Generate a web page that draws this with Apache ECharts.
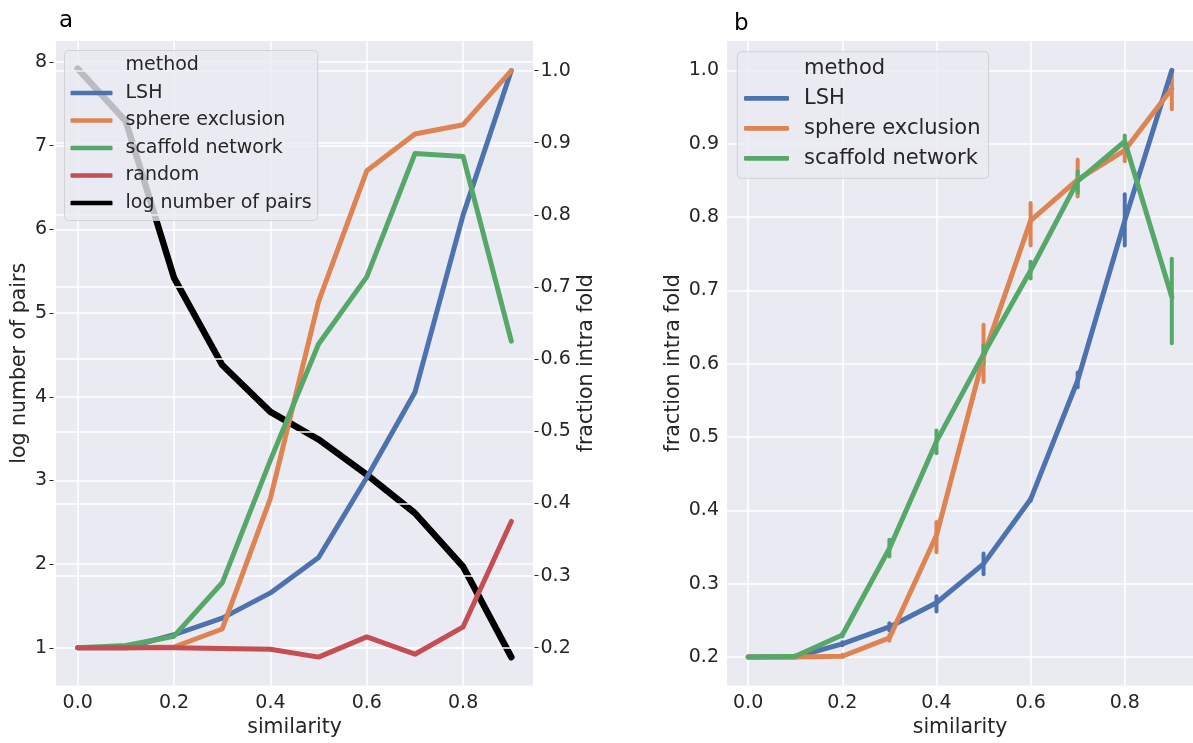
<!DOCTYPE html>
<html><head><meta charset="utf-8">
<script src="https://cdn.jsdelivr.net/npm/echarts@6/dist/echarts.min.js"></script>
<style>html,body{margin:0;padding:0;background:#fff}#c{width:1193px;height:743px}</style>
</head><body><div id="c"></div>
<script>
// ---------- data ----------
const similarity = [0, 0.1, 0.2, 0.3, 0.4, 0.5, 0.6, 0.7, 0.8, 0.9];

// panel a
const logPairs  = [7.92, 7.29, 5.42, 4.38, 3.82, 3.49, 3.07, 2.61, 1.97, 0.89];
const lshA      = [0.2, 0.2, 0.218, 0.241, 0.276, 0.325, 0.436, 0.554, 0.800, 1.0];
const sphereA   = [0.2, 0.2, 0.201, 0.226, 0.407, 0.680, 0.861, 0.912, 0.925, 1.0];
const scaffoldA = [0.2, 0.203, 0.216, 0.290, 0.460, 0.621, 0.714, 0.885, 0.881, 0.625];
const randomA   = [0.2, 0.2, 0.2, 0.199, 0.198, 0.187, 0.215, 0.191, 0.229, 0.375];

// panel b (mean, lower, upper)
const lshB        = [0.2, 0.2, 0.218, 0.241, 0.274, 0.327, 0.415, 0.577, 0.795, 1.0];
const lshBLow     = [0.2, 0.2, 0.216, 0.236, 0.262, 0.313, 0.413, 0.568, 0.761, 0.998];
const lshBHigh    = [0.2, 0.2, 0.220, 0.246, 0.283, 0.341, 0.417, 0.588, 0.831, 1.0];
const sphereB     = [0.2, 0.2, 0.201, 0.226, 0.366, 0.610, 0.795, 0.851, 0.891, 0.975];
const sphereBLow  = [0.2, 0.2, 0.200, 0.222, 0.343, 0.575, 0.761, 0.828, 0.876, 0.947];
const sphereBHigh = [0.2, 0.2, 0.203, 0.230, 0.384, 0.653, 0.819, 0.878, 0.903, 0.997];
const scaffoldB     = [0.2, 0.201, 0.230, 0.348, 0.494, 0.613, 0.727, 0.849, 0.903, 0.691];
const scaffoldBLow  = [0.2, 0.200, 0.228, 0.337, 0.478, 0.600, 0.716, 0.833, 0.895, 0.628];
const scaffoldBHigh = [0.2, 0.202, 0.232, 0.360, 0.509, 0.625, 0.739, 0.862, 0.911, 0.743];

// tick labels
const xTicks     = [0, 0.2, 0.4, 0.6, 0.8];
const logTicks   = [1, 2, 3, 4, 5, 6, 7, 8];
const fracTicksA = [0.2, 0.3, 0.4, 0.5, 0.6, 0.7, 0.8, 0.9, 1.0];
const fracTicksB = [0.2, 0.3, 0.4, 0.5, 0.6, 0.7, 0.8, 0.9, 1.0];

const methodNames = ['LSH', 'sphere exclusion', 'scaffold network', 'random', 'log number of pairs'];

// ---------- styles ----------
const FONT = 'DejaVu Sans';
const TXT = '#262626';
const C = { LSH: '#4C72B0', 'sphere exclusion': '#DD8452', 'scaffold network': '#55A868', random: '#C44E52', 'log number of pairs': '#000000' };

const pairs = (ys) => similarity.map((x, i) => [x, ys[i]]);
const triples = (lo, hi) => similarity.map((x, i) => [x, lo[i], hi[i]]);

function xAxisOpt(gi) {
  return {
    type: 'value', gridIndex: gi, min: -0.045, max: 0.945,
    name: 'similarity', nameLocation: 'middle', nameGap: 30,
    nameTextStyle: { fontSize: 20.5, color: TXT, fontFamily: FONT },
    axisLine: { show: false, onZero: false },
    axisTick: { show: false, customValues: xTicks },
    axisLabel: { customValues: xTicks, formatter: v => v.toFixed(1), fontSize: 19, color: TXT, fontFamily: FONT, margin: 7.5 },
    splitLine: { show: true, lineStyle: { color: '#ffffff', width: 1.5 } }
  };
}

function lineSeries(name, ys, xi, yi, width, z) {
  return {
    name, type: 'line', xAxisIndex: xi, yAxisIndex: yi, data: pairs(ys),
    symbol: 'none', z: z, silent: true, animation: false,
    lineStyle: { color: C[name], width: width, cap: 'round', join: 'round' },
    itemStyle: { color: C[name] }
  };
}

function errSeries(name, lo, hi) {
  return {
    type: 'custom', xAxisIndex: 1, yAxisIndex: 2, z: 2, silent: true, animation: false,
    data: triples(lo, hi),
    encode: { x: 0, y: [1, 2] },
    renderItem: function (params, api) {
      const p1 = api.coord([api.value(0), api.value(1)]);
      const p2 = api.coord([api.value(0), api.value(2)]);
      return { type: 'line', shape: { x1: p1[0], y1: p1[1], x2: p2[0], y2: p2[1] },
               style: { stroke: C[name], lineWidth: 4, lineCap: 'round' } };
    }
  };
}

function legendOpt(names, left, top, fs, lh, gap, iw, pad, textPad) {
  return {
    show: true, orient: 'vertical', left: left, top: top, selectedMode: false,
    data: [{ name: 'method', icon: 'rect', itemStyle: { opacity: 0 } }].concat(names),
    icon: 'roundRect', itemWidth: iw, itemHeight: 4.7, itemGap: gap,
    padding: pad,
    backgroundColor: 'rgba(234,234,242,0.8)', borderColor: 'rgba(204,204,204,0.8)', borderWidth: 1, borderRadius: 4,
    textStyle: { fontSize: fs, lineHeight: lh, color: TXT, fontFamily: FONT, padding: [0, 0, 0, textPad] },
    z: 10
  };
}

const chart = echarts.init(document.getElementById('c'), null, { renderer: 'canvas' });
chart.setOption({
  animation: false,
  backgroundColor: '#ffffff',
  textStyle: { fontFamily: FONT },
  grid: [
    { left: 56, top: 41, width: 477, height: 653, show: true, backgroundColor: '#EAEAF2', borderWidth: 0 },
    { left: 727, top: 41, width: 477, height: 653, show: true, backgroundColor: '#EAEAF2', borderWidth: 0 }
  ],
  xAxis: [xAxisOpt(0), xAxisOpt(1)],
  yAxis: [
    { type: 'value', gridIndex: 0, position: 'left', offset: 2.5, min: 0.55, max: 8.25,
      name: 'log number of pairs', nameLocation: 'middle', nameGap: 23.5,
      nameTextStyle: { fontSize: 20.5, color: TXT, fontFamily: FONT },
      axisLine: { show: false, onZero: false },
      axisTick: { show: true, length: 4, customValues: logTicks, lineStyle: { color: TXT, width: 1 } },
      axisLabel: { customValues: logTicks, formatter: v => String(Math.round(v)), fontSize: 19, color: TXT, fontFamily: FONT, margin: 6.5 },
      splitLine: { show: true, lineStyle: { color: '#ffffff', width: 1.5 } } },
    { type: 'value', gridIndex: 0, position: 'right', offset: 1.5, min: 0.1475, max: 1.041, z: 1.5,
      name: 'fraction intra fold', nameLocation: 'middle', nameGap: 41.5, nameRotate: 90,
      nameTextStyle: { fontSize: 20.5, color: TXT, fontFamily: FONT },
      axisLine: { show: false, onZero: false },
      axisTick: { show: true, length: 4, customValues: fracTicksA, lineStyle: { color: TXT, width: 1 } },
      axisLabel: { customValues: fracTicksA, formatter: v => v.toFixed(1), fontSize: 19, color: TXT, fontFamily: FONT, margin: 6 },
      splitLine: { show: true, lineStyle: { color: '#ffffff', width: 1.5 } } },
    { type: 'value', gridIndex: 1, position: 'left', min: 0.161, max: 1.04,
      name: 'fraction intra fold', nameLocation: 'middle', nameGap: 43,
      nameTextStyle: { fontSize: 20.5, color: TXT, fontFamily: FONT },
      axisLine: { show: false, onZero: false },
      axisTick: { show: false, customValues: fracTicksB },
      axisLabel: { customValues: fracTicksB, formatter: v => v.toFixed(1), fontSize: 19, color: TXT, fontFamily: FONT, margin: 8 },
      splitLine: { show: true, lineStyle: { color: '#ffffff', width: 1.5 } } }
  ],
  legend: [
    legendOpt(methodNames, 64.5, 50.5, 19, 22, 5.5, 42, [4, 6, 6.5, 6], 8),
    legendOpt(methodNames.slice(0, 3), 737.4, 51.7, 21, 24, 6, 45, [4.6, 8, 8, 6.6], 10)
  ],
  graphic: [
    { type: 'text', left: 59, top: 10, style: { text: 'a', fontSize: 23, fill: '#000', fontFamily: FONT } },
    { type: 'text', left: 734, top: 13, style: { text: 'b', fontSize: 23, fill: '#000', fontFamily: FONT } }
  ],
  series: [
    { name: 'method', type: 'line', xAxisIndex: 0, yAxisIndex: 1, data: [], symbol: 'none', silent: true },
    lineSeries('LSH', lshA, 0, 1, 5, 2),
    lineSeries('sphere exclusion', sphereA, 0, 1, 5, 2),
    lineSeries('scaffold network', scaffoldA, 0, 1, 5, 2),
    lineSeries('random', randomA, 0, 1, 5, 2),
    lineSeries('log number of pairs', logPairs, 0, 0, 6.5, 1),
    lineSeries('LSH', lshB, 1, 2, 5, 2),
    errSeries('LSH', lshBLow, lshBHigh),
    lineSeries('sphere exclusion', sphereB, 1, 2, 5, 2),
    errSeries('sphere exclusion', sphereBLow, sphereBHigh),
    lineSeries('scaffold network', scaffoldB, 1, 2, 5, 2),
    errSeries('scaffold network', scaffoldBLow, scaffoldBHigh)
  ]
});
</script>
</body></html>
